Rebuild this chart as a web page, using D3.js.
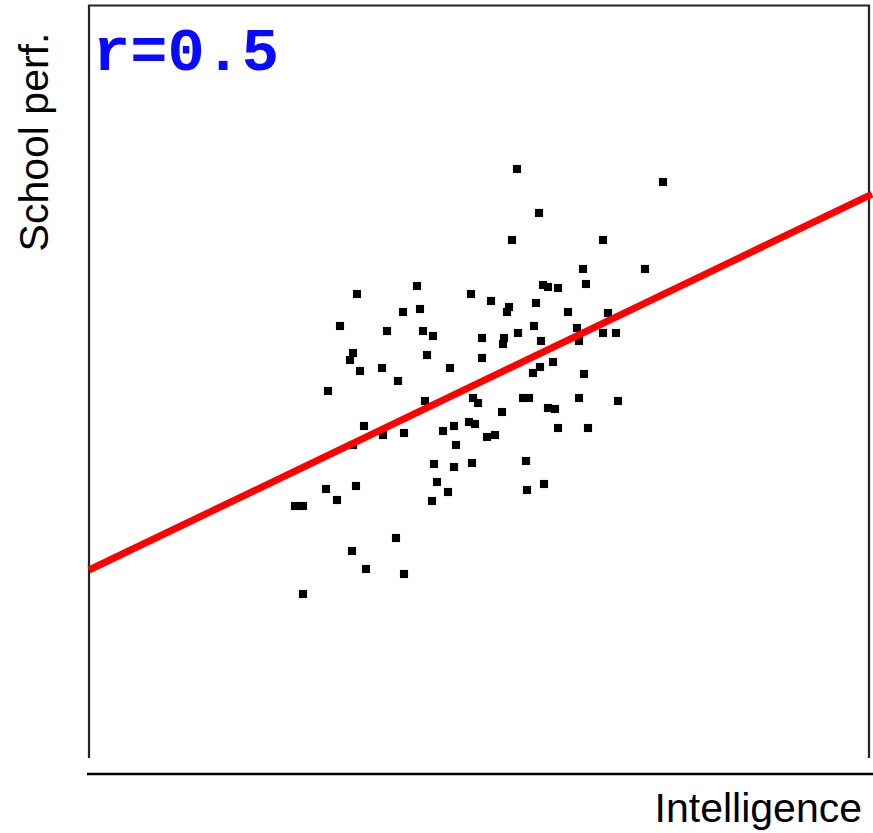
<!DOCTYPE html>
<html>
<head>
<meta charset="utf-8">
<script src="https://cdn.jsdelivr.net/npm/d3@7"></script>
<style>
  body { margin: 0; background: #fff; }
  svg { display: block; }
</style>
</head>
<body>
<div id="chart"></div>
<script>
// scores, arbitrary units (0..78 intelligence, 0..75 school performance)
const intelligence = [
  26.8, 32.8, 38.2, 31.4, 33.1, 25.1, 29.8, 33.4, 34.4, 39.3,
  26.4, 26.1, 33.8, 39.3, 27.1, 29.3, 36.1, 30.9, 42.8, 57.4,
  45.0, 42.3, 51.4, 49.4, 55.6, 49.7, 45.4, 45.9, 46.9, 40.2,
  42.0, 41.8, 44.7, 47.9, 51.9, 41.5, 41.4, 42.9, 44.5, 45.2,
  48.8, 49.0, 51.4, 52.7, 45.1, 44.4, 46.4, 49.5, 23.9, 33.6,
  38.4, 38.9, 27.5, 29.4, 26.4, 31.5, 35.4, 36.5, 38.0, 38.6,
  36.7, 34.5, 36.5, 38.3, 34.8, 35.9, 34.3, 23.7, 24.8, 26.7,
  20.6, 21.4, 30.7, 26.3, 27.7, 31.5, 21.4, 43.4, 44.0, 49.0,
  52.9, 41.3, 45.9, 46.6, 46.9, 49.9, 39.8, 40.6, 43.7, 43.8,
  45.5
];
const schoolPerf = [
  46.4, 47.2, 46.4, 44.6, 44.9, 43.2, 42.7, 42.7, 42.2, 42.0,
  40.5, 39.8, 40.3, 40.0, 38.7, 39.0, 39.0, 37.7, 58.9, 57.6,
  54.5, 51.8, 51.8, 48.9, 48.9, 47.4, 47.3, 47.1, 47.0, 45.7,
  45.1, 44.6, 45.5, 44.6, 44.5, 42.0, 41.4, 42.5, 43.2, 41.7,
  43.0, 41.7, 42.5, 42.5, 39.1, 38.5, 39.6, 38.4, 36.7, 35.7,
  36.0, 35.5, 33.2, 32.3, 31.3, 32.5, 32.7, 33.2, 33.6, 33.4,
  31.3, 29.4, 29.1, 29.5, 27.6, 26.6, 25.7, 26.9, 25.8, 27.2,
  25.2, 25.2, 22.0, 20.7, 18.9, 18.4, 16.4, 36.0, 36.0, 36.0,
  35.7, 34.6, 35.0, 34.9, 33.0, 33.0, 32.1, 32.3, 29.7, 26.8,
  27.4
];
const fitIntercept = 18.8;
const fitSlope = 0.48;
const corrLabel = 'r=0.5';
const xLabel = 'Intelligence';
const yLabel = 'School perf.';

const width = 873;
const height = 833;

const x = d3.scaleLinear().domain([0, 78]).range([89, 869]);
const y = d3.scaleLinear().domain([0, 75.3]).range([758, 5]);

const svg = d3.select('#chart')
  .append('svg')
  .attr('width', width)
  .attr('height', height);

// frame
svg.append('path')
  .attr('d', `M${x(0)},${y(0)}V${y(75.3) + 0.5}H${x(78)}V${y(0)}`)
  .attr('fill', 'none')
  .attr('stroke', '#222')
  .attr('stroke-width', 2.2);

// x axis line
svg.append('line')
  .attr('x1', 87).attr('x2', width)
  .attr('y1', 774).attr('y2', 774)
  .attr('stroke', '#000')
  .attr('stroke-width', 2.5);

const points = intelligence.map((v, i) => ({ x: v, y: schoolPerf[i] }));

svg.append('g')
  .selectAll('path')
  .data(points)
  .enter().append('path')
  .attr('transform', d => `translate(${x(d.x)},${y(d.y)})`)
  .attr('d', d3.symbol().type(d3.symbolSquare).size(66))
  .attr('fill', '#000');

// regression line
const fitLine = d3.line()
  .x(d => x(d))
  .y(d => y(fitIntercept + fitSlope * d));

svg.append('path')
  .datum([0, 78.3])
  .attr('d', fitLine)
  .attr('fill', 'none')
  .attr('stroke', '#ff0000')
  .attr('stroke-width', 7);

svg.append('text')
  .attr('x', 93)
  .attr('y', 70)
  .attr('font-family', '"Liberation Mono", "DejaVu Sans Mono", monospace')
  .attr('font-weight', 'bold')
  .attr('font-size', 62)
  .attr('fill', '#0a0aff')
  .text(corrLabel);

svg.append('text')
  .attr('x', 862)
  .attr('y', 822)
  .attr('text-anchor', 'end')
  .attr('font-family', '"Liberation Sans", Arial, sans-serif')
  .attr('font-size', 41)
  .attr('fill', '#000')
  .text(xLabel);

svg.append('text')
  .attr('transform', 'translate(48,142) rotate(-90)')
  .attr('text-anchor', 'middle')
  .attr('font-family', '"Liberation Sans", Arial, sans-serif')
  .attr('font-size', 41)
  .attr('fill', '#000')
  .text(yLabel);
</script>
</body>
</html>
